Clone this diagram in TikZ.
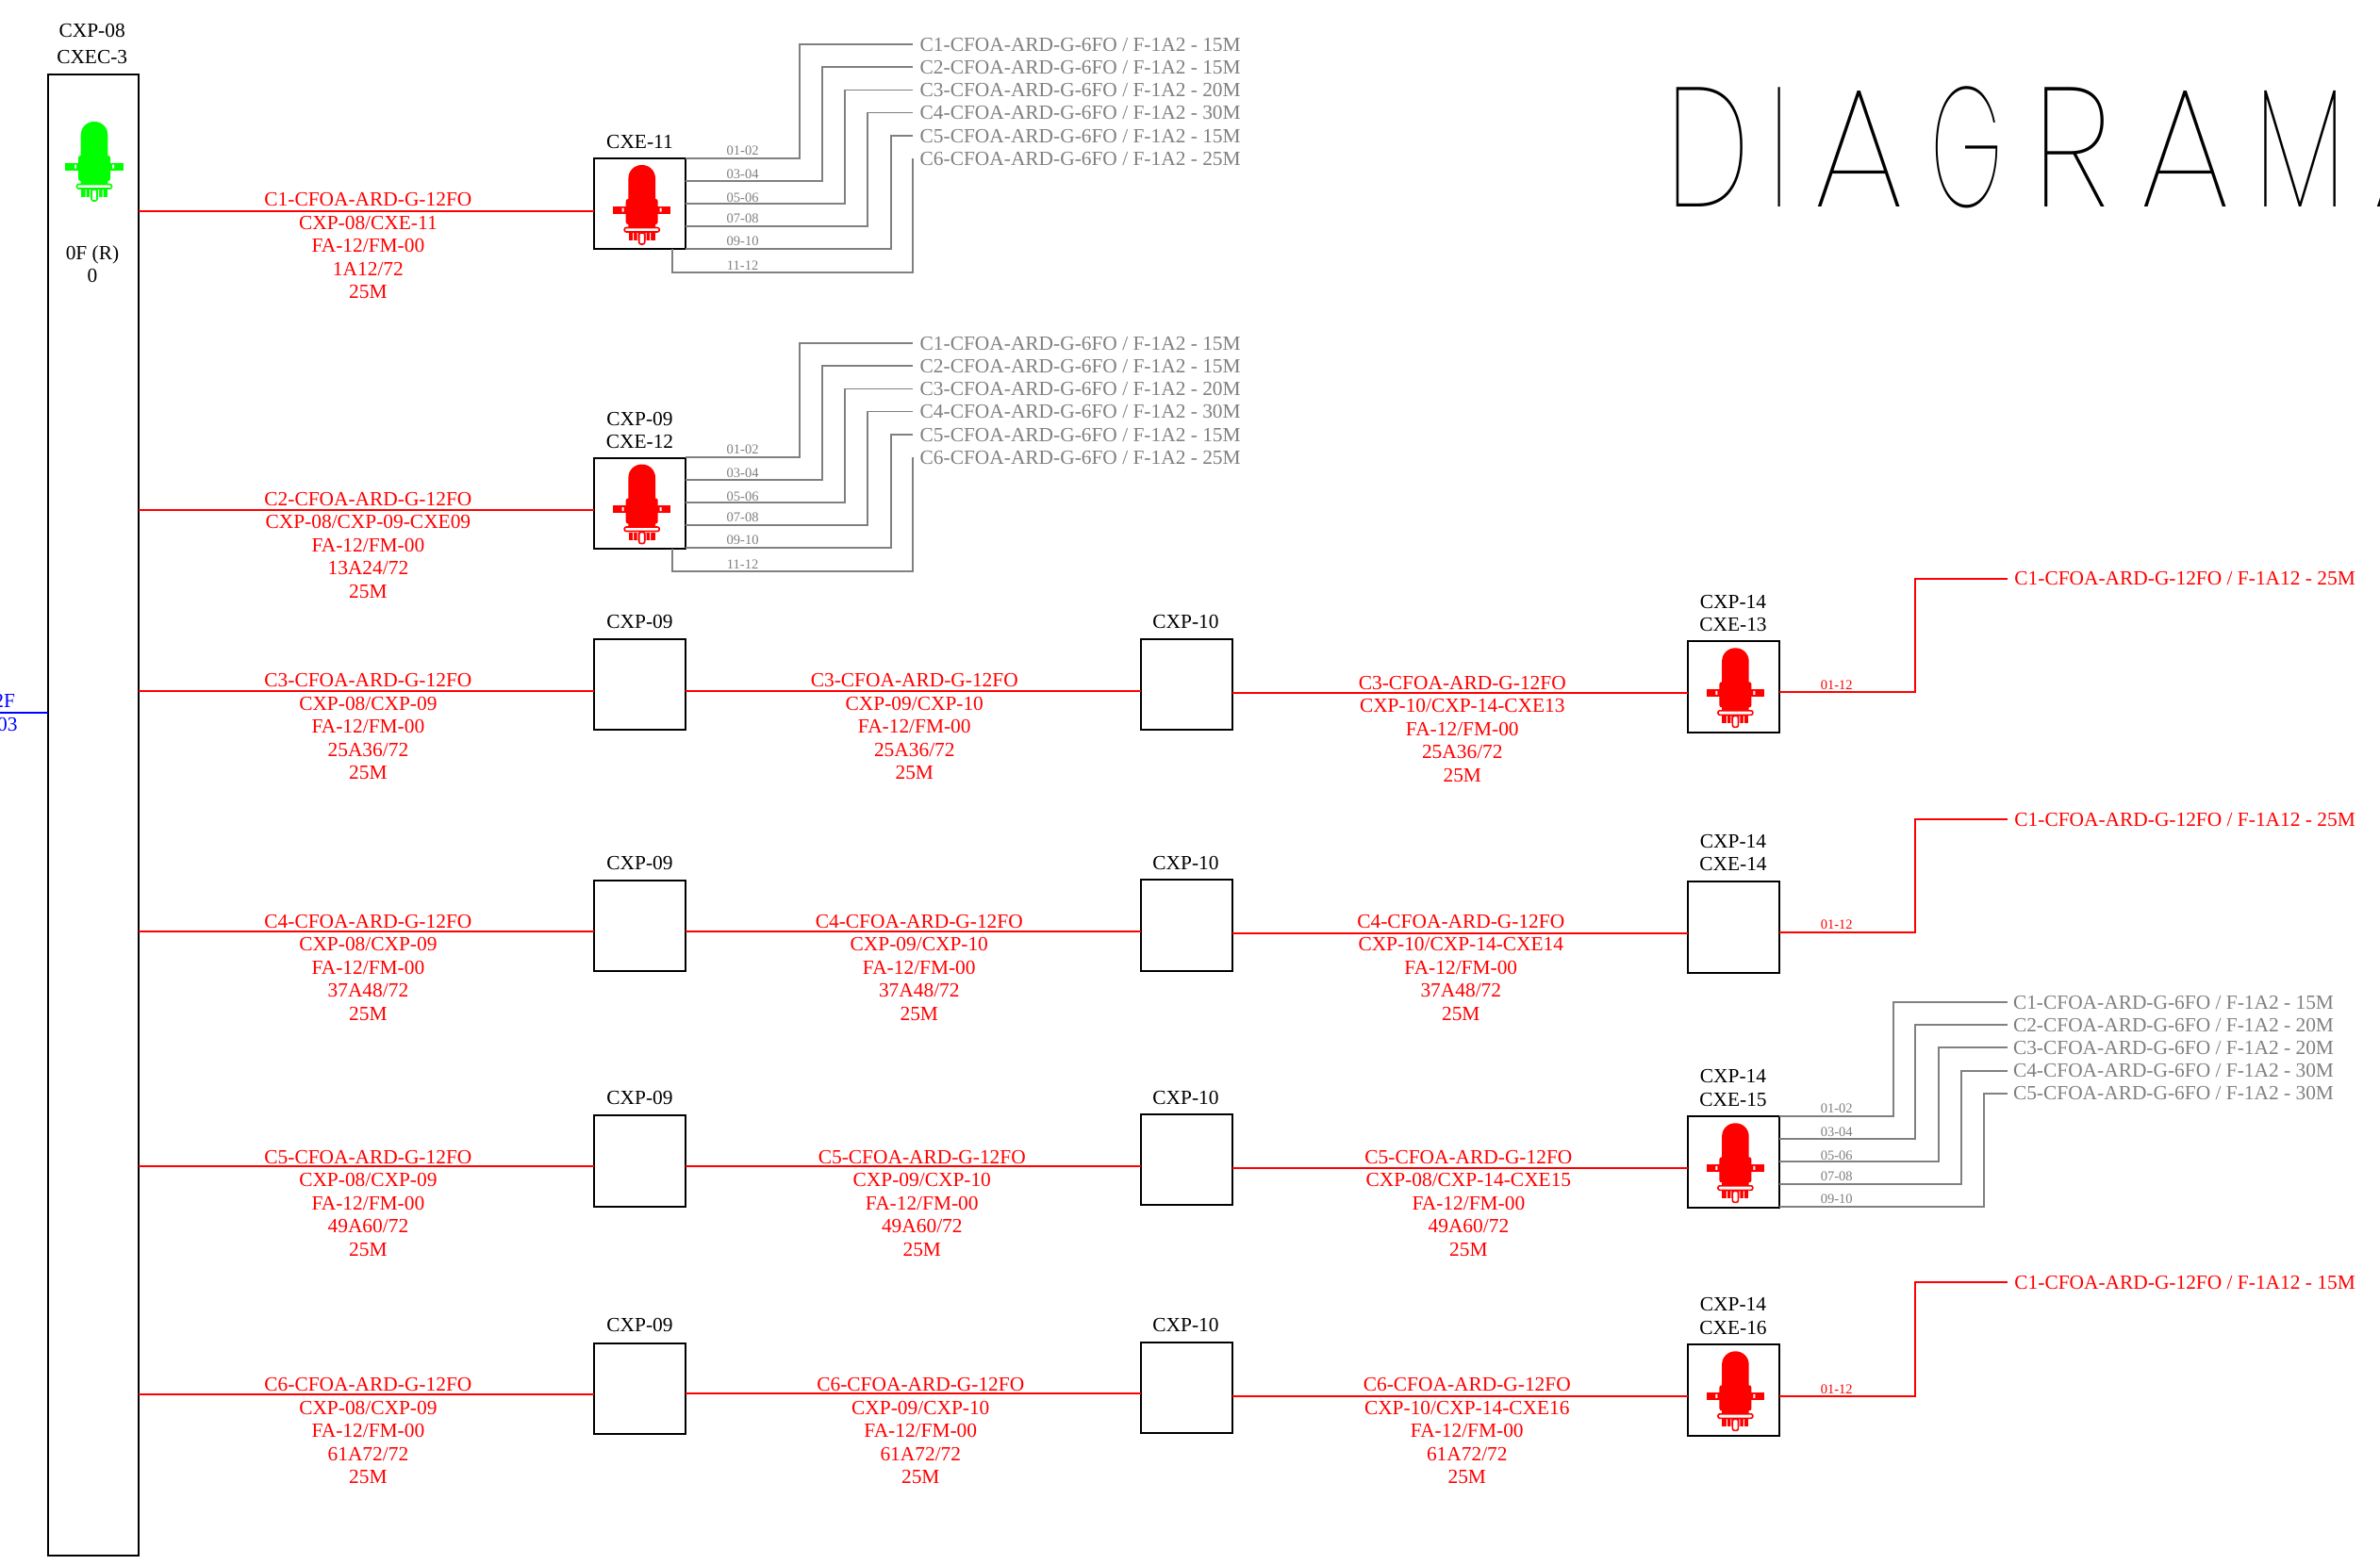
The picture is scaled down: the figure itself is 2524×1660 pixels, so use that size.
\documentclass[tikz,border=0pt]{standalone}
\usepackage{graphicx}
\usepackage{fontspec}
\setmainfont{Liberation Serif}
\newfontface\titlefont{Poppins Thin}
\newcommand\tl[3]{\makebox[#1pt][l]{\scalebox{#2}[1]{#3}}}
\tikzset{
  x=0.5pt,y=-0.5pt,
  every node/.style={font=\fontsize{10.7}{12.25}\selectfont,inner sep=0pt,outer sep=0pt},
  bx/.style={draw=black,line width=1pt,minimum width=48.4pt,minimum height=48.2pt,fill=none},
  captxt/.style={black,text height=7.1pt,text depth=0pt},
  redtxt/.style={red,align=center},
  redwire/.style={draw=red,line width=1pt},
  graywire/.style={draw=gray,line width=0.95pt},
  graytxt/.style={gray,anchor=west,inner xsep=3.65pt,text height=7.1pt,text depth=0pt},
  redout/.style={red,anchor=west,inner xsep=3.7pt,text height=7.1pt,text depth=0pt},
  smalltxt/.style={font=\fontsize{7.25}{8}\selectfont,text height=4.9pt,text depth=0pt},
  fosc/.pic={
    \fill[#1] (-14.3,66) -- (-14.3,14.3) .. controls (-14.3,6) and (-8,0) .. (0,0) .. controls (8,0) and (14.3,6) .. (14.3,14.3) -- (14.3,66) -- cycle;
    \fill[#1,rounded corners=1.2pt] (-17,36) rectangle (17,63);
    \fill[#1] (-30.7,43.5) rectangle (30.7,51.5);
    \fill[white] (-21,45.5) rectangle (-19,49.5) (19,45.5) rectangle (21,49.5);
    \fill[#1] (-14,72) rectangle (14,80);
    \fill[white] (-9.5,72) rectangle (-8.5,80) (-5,72) rectangle (-4,80) (4,72) rectangle (5,80) (8.5,72) rectangle (9.5,80);
    \draw[#1,line width=0.8pt,fill=white,rounded corners=1pt] (-18.5,66.5) rectangle (18.5,71);
    \draw[#1,line width=0.8pt,fill=white,rounded corners=1pt] (-3,72) rectangle (3,84);
  }
}
% name, x, y, five lines
\newcommand\cablab[8]{\node[redtxt] (#1) at (#2+0.8,#3+1.4) {#4\\#5\\#6\\#7\\#8};}
% box name, vertical shift: six grey cables on the right of a box
\newcommand\graygroup[2]{%
  \node[graytxt] (#1t1) at (968.4,47.3+#2) {C1-CFOA-ARD-G-6FO / F-1A2 - 15M};
  \node[graytxt] (#1t2) at (968.4,71.3+#2) {C2-CFOA-ARD-G-6FO / F-1A2 - 15M};
  \node[graytxt] (#1t3) at (968.4,95.5+#2) {C3-CFOA-ARD-G-6FO / F-1A2 - 20M};
  \node[graytxt] (#1t4) at (968.4,119.5+#2) {C4-CFOA-ARD-G-6FO / F-1A2 - 30M};
  \node[graytxt] (#1t5) at (968.4,144+#2) {C5-CFOA-ARD-G-6FO / F-1A2 - 15M};
  \node[graytxt] (#1t6) at (968.4,168+#2) {C6-CFOA-ARD-G-6FO / F-1A2 - 25M};
  \draw[graywire] (#1.east |- 0,168+#2) -| (847.7,47.3+#2) -- (#1t1.west);
  \draw[graywire] (#1.east |- 0,192.3+#2) -| (872,71.3+#2) -- (#1t2.west);
  \draw[graywire] (#1.east |- 0,216.3+#2) -| (896,95.5+#2) -- (#1t3.west);
  \draw[graywire] (#1.east |- 0,240.3+#2) -| (920,119.5+#2) -- (#1t4.west);
  \draw[graywire] (#1.east |- 0,264.3+#2) -| (944.6,144+#2) -- (#1t5.west);
  \draw[graywire] (#1.south -| 713,0) |- (968.4,288.7+#2) -- (#1t6.west);
  \node[smalltxt,gray] (#1s1) at (787.6,160+#2) {01-02};
  \node[smalltxt,gray] (#1s2) at (787.6,185+#2) {03-04};
  \node[smalltxt,gray] (#1s3) at (787.6,210+#2) {05-06};
  \node[smalltxt,gray] (#1s4) at (787.6,232+#2) {07-08};
  \node[smalltxt,gray] (#1s5) at (787.6,256+#2) {09-10};
  \node[smalltxt,gray] (#1s6) at (787.6,282+#2) {11-12};
}
% end box, wire y, up y, text
\newcommand\redtail[4]{%
  \node[redout] (#1t) at (2129,#3) {#4};
  \draw[redwire] (#1.east |- 0,#2) -| (2031.4,#3) -- (#1t.west);
  \node[smalltxt,red] (#1s) at (1947.7,#2-7.6) {01-12};
}
\begin{document}
\begin{tikzpicture}
\useasboundingbox (0,0) rectangle (2524,1660);
\clip (0,0) rectangle (2524,1660);
\fill[white] (0,0) rectangle (2524,1660);

% title
\node[anchor=base west,black] (title) at (1767.5,219.3) {\titlefont\fontsize{90}{90}\selectfont\tl{54.25}{.70}{D}\tl{23.5}{.62}{I}\tl{62.25}{.89}{A}\tl{53.75}{.54}{G}\tl{57.25}{.86}{R}\tl{61}{.89}{A}\tl{62.25}{.67}{M}\tl{40}{.89}{A}};

% main closure
\node[draw=black,line width=1pt,minimum width=48.2pt,minimum height=785.7pt] (M) at (98.75,864.3) {};
\node[captxt] (Ma) at (97.7,32) {CXP-08};
\node[captxt] (Mb) at (97.7,60) {CXEC-3};
\node[captxt] (Mc) at (98,268) {0F (R)};
\node[captxt] (Md) at (98,292) {0};
\pic at (100,129) {fosc=green};

% blue feed
\coordinate (feed) at (0,756);
\draw[blue,line width=1pt] (feed) -- (M.west |- feed);
\node[blue,anchor=east,text height=7.1pt,text depth=0pt] (feedA) at (16,743) {2F};
\node[blue,anchor=east,text height=7.1pt,text depth=0pt] (feedB) at (18.5,768) {03};

% boxes: first column
\node[bx] (A) at (678.5,216) {};
\node[bx] (B) at (678.5,534) {};
\node[bx] (C1) at (678.5,726) {};
\node[bx] (D1) at (678.5,981.8) {};
\node[bx] (E1) at (678.5,1231.5) {};
\node[bx] (F1) at (678.5,1472.8) {};
% boxes: second column
\node[bx] (C2) at (1258.5,725.8) {};
\node[bx] (D2) at (1258.5,981.3) {};
\node[bx] (E2) at (1258.5,1229.8) {};
\node[bx] (F2) at (1258.5,1472.2) {};
% boxes: third column
\node[bx] (C3) at (1838.3,728.3) {};
\node[bx] (D3) at (1838.3,983.5) {};
\node[bx] (E3) at (1838.3,1232.3) {};
\node[bx] (F3) at (1838.3,1474.5) {};

% icons
\pic at (680.7,175) {fosc=red};
\pic at (680.7,492.5) {fosc=red};
\pic at (1840.4,687.3) {fosc=red};
\pic at (1840.4,1191.3) {fosc=red};
\pic at (1840.4,1433.3) {fosc=red};

% box captions
\node[captxt] (Al) at (678.5,150) {CXE-11};
\node[captxt] (Bl1) at (678.5,444) {CXP-09};
\node[captxt] (Bl2) at (678.5,468) {CXE-12};
\node[captxt] (C1l) at (678.5,659.5) {CXP-09};
\node[captxt] (D1l) at (678.5,915.5) {CXP-09};
\node[captxt] (E1l) at (678.5,1164) {CXP-09};
\node[captxt] (F1l) at (678.5,1405.5) {CXP-09};
\node[captxt] (C2l) at (1257.5,659) {CXP-10};
\node[captxt] (D2l) at (1257.5,915) {CXP-10};
\node[captxt] (E2l) at (1257.5,1164) {CXP-10};
\node[captxt] (F2l) at (1257.5,1405.5) {CXP-10};
\node[captxt] (C3a) at (1838,638.3) {CXP-14};
\node[captxt] (C3b) at (1838,662.3) {CXE-13};
\node[captxt] (D3a) at (1838,892.5) {CXP-14};
\node[captxt] (D3b) at (1838,916.5) {CXE-14};
\node[captxt] (E3a) at (1838,1141.7) {CXP-14};
\node[captxt] (E3b) at (1838,1166) {CXE-15};
\node[captxt] (F3a) at (1838,1383) {CXP-14};
\node[captxt] (F3b) at (1838,1408.5) {CXE-16};

% red cables
\draw[redwire] (M.east |- 0,223.5) -- (A.west |- 0,223.5);
\draw[redwire] (M.east |- 0,541) -- (B.west |- 0,541);
\draw[redwire] (M.east |- 0,733) -- (C1.west |- 0,733);
\draw[redwire] (C1.east |- 0,732.5) -- (C2.west |- 0,732.5);
\draw[redwire] (C2.east |- 0,735.3) -- (C3.west |- 0,735.3);
\draw[redwire] (M.east |- 0,988.4) -- (D1.west |- 0,988.4);
\draw[redwire] (D1.east |- 0,987.5) -- (D2.west |- 0,987.5);
\draw[redwire] (D2.east |- 0,990) -- (D3.west |- 0,990);
\draw[redwire] (M.east |- 0,1237) -- (E1.west |- 0,1237);
\draw[redwire] (E1.east |- 0,1236.5) -- (E2.west |- 0,1236.5);
\draw[redwire] (E2.east |- 0,1239) -- (E3.west |- 0,1239);
\draw[redwire] (M.east |- 0,1479.3) -- (F1.west |- 0,1479.3);
\draw[redwire] (F1.east |- 0,1478) -- (F2.west |- 0,1478);
\draw[redwire] (F2.east |- 0,1481) -- (F3.west |- 0,1481);

% cable labels
\cablab{r1}{389.6}{259.5}{C1-CFOA-ARD-G-12FO}{CXP-08/CXE-11}{FA-12/FM-00}{1A12/72}{25M}
\cablab{r2}{389.6}{577}{C2-CFOA-ARD-G-12FO}{CXP-08/CXP-09-CXE09}{FA-12/FM-00}{13A24/72}{25M}
\cablab{r3a}{389.6}{769.5}{C3-CFOA-ARD-G-12FO}{CXP-08/CXP-09}{FA-12/FM-00}{25A36/72}{25M}
\cablab{r3b}{969}{769.5}{C3-CFOA-ARD-G-12FO}{CXP-09/CXP-10}{FA-12/FM-00}{25A36/72}{25M}
\cablab{r3c}{1550}{771.8}{C3-CFOA-ARD-G-12FO}{CXP-10/CXP-14-CXE13}{FA-12/FM-00}{25A36/72}{25M}
\cablab{r4a}{389.6}{1025}{C4-CFOA-ARD-G-12FO}{CXP-08/CXP-09}{FA-12/FM-00}{37A48/72}{25M}
\cablab{r4b}{974}{1025}{C4-CFOA-ARD-G-12FO}{CXP-09/CXP-10}{FA-12/FM-00}{37A48/72}{25M}
\cablab{r4c}{1548.5}{1025}{C4-CFOA-ARD-G-12FO}{CXP-10/CXP-14-CXE14}{FA-12/FM-00}{37A48/72}{25M}
\cablab{r5a}{389.6}{1275}{C5-CFOA-ARD-G-12FO}{CXP-08/CXP-09}{FA-12/FM-00}{49A60/72}{25M}
\cablab{r5b}{977}{1275}{C5-CFOA-ARD-G-12FO}{CXP-09/CXP-10}{FA-12/FM-00}{49A60/72}{25M}
\cablab{r5c}{1556.6}{1275}{C5-CFOA-ARD-G-12FO}{CXP-08/CXP-14-CXE15}{FA-12/FM-00}{49A60/72}{25M}
\cablab{r6a}{389.6}{1516.5}{C6-CFOA-ARD-G-12FO}{CXP-08/CXP-09}{FA-12/FM-00}{61A72/72}{25M}
\cablab{r6b}{975.5}{1516.5}{C6-CFOA-ARD-G-12FO}{CXP-09/CXP-10}{FA-12/FM-00}{61A72/72}{25M}
\cablab{r6c}{1555}{1516.5}{C6-CFOA-ARD-G-12FO}{CXP-10/CXP-14-CXE16}{FA-12/FM-00}{61A72/72}{25M}

% grey groups
\graygroup{A}{0}
\graygroup{B}{317}

% grey group of CXE-15
\node[graytxt,inner xsep=3pt] (Et1) at (2129,1063.3) {C1-CFOA-ARD-G-6FO / F-1A2 - 15M};
\node[graytxt,inner xsep=3pt] (Et2) at (2129,1087.3) {C2-CFOA-ARD-G-6FO / F-1A2 - 20M};
\node[graytxt,inner xsep=3pt] (Et3) at (2129,1111.3) {C3-CFOA-ARD-G-6FO / F-1A2 - 20M};
\node[graytxt,inner xsep=3pt] (Et4) at (2129,1135.7) {C4-CFOA-ARD-G-6FO / F-1A2 - 30M};
\node[graytxt,inner xsep=3pt] (Et5) at (2129,1159.7) {C5-CFOA-ARD-G-6FO / F-1A2 - 30M};
\draw[graywire] (E3.east |- 0,1184) -| (2007.6,1063.3) -- (Et1.west);
\draw[graywire] (E3.east |- 0,1208) -| (2031.4,1087.3) -- (Et2.west);
\draw[graywire] (E3.east |- 0,1232) -| (2055.8,1111.3) -- (Et3.west);
\draw[graywire] (E3.east |- 0,1256.3) -| (2080,1135.7) -- (Et4.west);
\draw[graywire] (E3.east |- 0,1280.3) -| (2104,1159.7) -- (Et5.west);
\node[smalltxt,gray] (Es1) at (1947.7,1175.5) {01-02};
\node[smalltxt,gray] (Es2) at (1947.7,1200.8) {03-04};
\node[smalltxt,gray] (Es3) at (1947.7,1225.8) {05-06};
\node[smalltxt,gray] (Es4) at (1947.7,1247.8) {07-08};
\node[smalltxt,gray] (Es5) at (1947.7,1271.8) {09-10};

% red tails
\redtail{C3}{734.3}{613.7}{C1-CFOA-ARD-G-12FO / F-1A12 - 25M}
\redtail{D3}{988.5}{869}{C1-CFOA-ARD-G-12FO / F-1A12 - 25M}
\redtail{F3}{1481}{1360}{C1-CFOA-ARD-G-12FO / F-1A12 - 15M}
\end{tikzpicture}
\end{document}
